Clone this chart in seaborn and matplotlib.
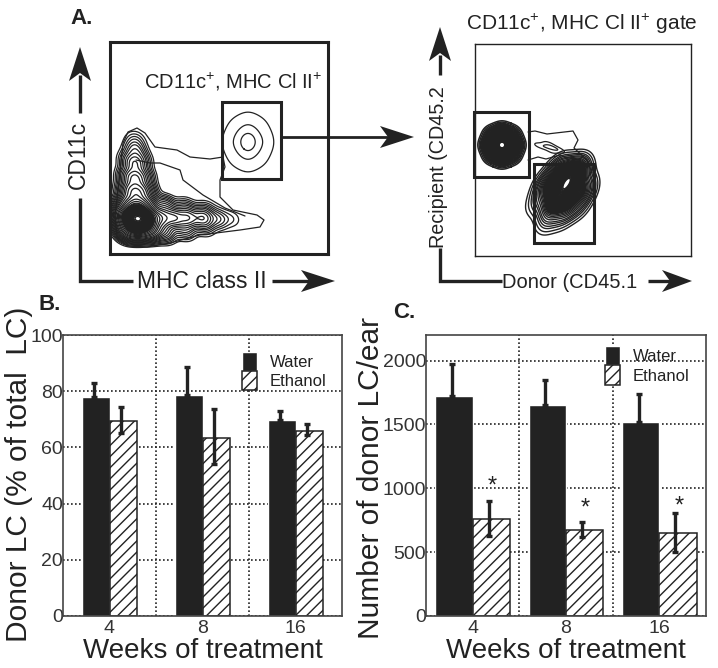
import matplotlib
matplotlib.use("Agg")
import matplotlib.pyplot as plt
from matplotlib.patches import Rectangle
import pandas as pd
import seaborn as sns

# bar data
weeks = ["4", "8", "16"]
groups = ["Water", "Ethanol"]

pct_water = [78, 78.5, 69.7]
pct_water_top = [83, 88.5, 73]
pct_ethanol = [69.3, 63.5, 66]
pct_ethanol_top = [74.5, 73.5, 68.5]
pct_ethanol_low = [65, 54, 64.5]

num_water = [1720, 1655, 1515]
num_water_top = [1975, 1845, 1740]
num_ethanol = [760, 670, 650]
num_ethanol_top = [900, 735, 805]
num_ethanol_low = [630, 615, 500]
star_height = [1010, 845, 860]

# flow plots in pixels: x, y, weight
left_main = [(138, 218, 34), (130, 218, 16), (146, 218, 16), (138, 228, 13), (128, 229, 7),
             (150, 229, 6), (137, 206, 8), (127, 204, 3), (147, 204, 3), (136, 192, 4),
             (128, 190, 1.4), (145, 190, 1.4), (135, 178, 2), (128, 176, 0.9), (143, 176, 0.9),
             (135, 164, 1.2), (129, 160, 0.5), (141, 160, 0.5), (135, 150, 0.7), (135, 140, 0.25),
             (160, 218, 4), (174, 218, 2.6), (188, 218, 2), (203, 218, 1.6), (218, 219, 0.5),
             (232, 219, 0.15), (165, 232, 1.2), (165, 206, 1), (185, 230, 0.6), (185, 208, 0.5),
             (205, 227, 0.3), (205, 210, 0.25), (122, 215, 3)]
left_gate = [(248, 126, 1), (248, 142, 4), (248, 158, 1), (234, 142, 1), (262, 142, 1),
             (238, 130, 0.7), (258, 130, 0.7), (238, 154, 0.7), (258, 154, 0.7)]
right_recipient = [(502, 145, 8), (490, 145, 4), (514, 145, 4), (502, 133, 4), (502, 157, 4),
                   (493, 136, 3), (511, 136, 3), (493, 154, 3), (511, 154, 3)]
right_donor = [(565, 187, 10), (571, 176, 7), (557, 198, 6), (551, 208, 2), (548, 220, 0.8),
               (577, 172, 4), (548, 186, 4), (582, 190, 4), (562, 215, 1), (568, 204, 3),
               (535, 205, 0.2), (560, 172, 4), (578, 205, 1), (540, 200, 0.8)]
right_bridge = [(541, 146, 1), (550, 147, 2), (558, 150, 1), (548, 143, 0.5), (552, 152, 0.5)]

# outer contours traced by hand
left_outer_x = [115, 118, 123, 128, 137, 145, 155, 177, 190, 210, 223, 225, 220, 220, 233, 257, 264, 260, 240, 200, 170, 147, 127, 117, 115]
left_outer_y = [217, 190, 143, 132, 128, 133, 147, 150, 157, 159, 157, 167, 180, 197, 210, 215, 220, 227, 230, 235, 243, 247, 246, 237, 217]
left_inner_x = [136, 150, 160, 180, 183, 203, 225, 245]
left_inner_y = [160, 163, 163, 170, 180, 195, 208, 216]
bridge_top_x = [528, 535, 547, 573, 578, 574, 587, 592]
bridge_top_y = [132, 131, 134, 131, 140, 148, 160, 173]
bridge_low_x = [528, 538, 546, 560, 565, 578]
bridge_low_y = [160, 157, 159, 155, 157, 160]

sns.set_theme(style="white")
plt.rcParams["font.family"] = ["Liberation Sans", "DejaVu Sans"]
plt.rcParams["mathtext.default"] = "regular"
plt.rcParams["hatch.linewidth"] = 1.0
plt.rcParams["text.color"] = "#222222"

W, H = 718, 668
DARK = "#222222"
fig = plt.figure(figsize=(W / 100, H / 100), dpi=100)


def box_axes(left, top, right, bottom):
    return fig.add_axes([left / W, 1 - bottom / H, (right - left) / W, (bottom - top) / H])


def flow_axes(left, top, right, bottom, lw):
    ax = box_axes(left, top, right, bottom)
    ax.set_xlim(left, right)
    ax.set_ylim(bottom, top)
    ax.set_xticks([])
    ax.set_yticks([])
    for s in ax.spines.values():
        s.set_linewidth(lw)
        s.set_color(DARK)
    return ax


def contours(ax, pts, levels, bw, lw=0.9):
    df = pd.DataFrame(pts, columns=["x", "y", "w"])
    sns.kdeplot(data=df, x="x", y="y", weights="w", levels=levels, bw_method=bw,
                gridsize=220, color=DARK, linewidths=lw, ax=ax)
    ax.set_xlabel("")
    ax.set_ylabel("")


def gate(ax, left, top, right, bottom):
    ax.add_patch(Rectangle((left, top), right - left, bottom - top, fill=False,
                           ec=DARK, lw=2.2, zorder=5, clip_on=False))


# panel A, left
ax1 = flow_axes(110, 42, 328, 254, 2.2)
lv = [0.003, 0.006, 0.01, 0.015, 0.022, 0.03, 0.042, 0.056, 0.075, 0.1, 0.13, 0.16, 0.2, 0.24, 0.28,
      0.32, 0.36, 0.4] + [0.42 + 0.02 * i for i in range(26)] + [0.94, 0.97]
contours(ax1, left_main, lv, 0.4)
contours(ax1, left_gate, [0.04, 0.4, 0.78], 0.75)
ax1.plot(left_outer_x, left_outer_y, color=DARK, lw=0.9)
ax1.plot(left_inner_x, left_inner_y, color=DARK, lw=0.9)
gate(ax1, 222, 102, 281, 179)

# panel A, right
ax2 = flow_axes(475, 44, 691, 256, 1.0)
lv2 = [0.01, 0.02, 0.035, 0.05, 0.07, 0.09, 0.12, 0.15, 0.18, 0.21] + [0.24 + 0.016 * i for i in range(46)]
contours(ax2, right_recipient, lv2, 0.6, lw=1.1)
contours(ax2, right_donor, lv2, 0.68, lw=1.0)
contours(ax2, right_bridge, [0.2, 0.7], 0.8)
ax2.plot(bridge_top_x, bridge_top_y, color=DARK, lw=0.9)
ax2.plot(bridge_low_x, bridge_low_y, color=DARK, lw=0.9)
gate(ax2, 474, 112, 529, 177)
gate(ax2, 534, 164, 594, 243)


def bar_panel(ax, water, water_top, ethanol, eth_top, eth_low, width, ymax, yticks, legend_xy):
    df = pd.DataFrame({
        "week": weeks * 2,
        "group": [groups[0]] * 3 + [groups[1]] * 3,
        "value": water + ethanol,
    })
    sns.barplot(data=df, x="week", y="value", hue="group", order=weeks, hue_order=groups,
                palette=[DARK, "white"], saturation=1, width=width, legend=False, ax=ax)
    water_bars, eth_bars = ax.containers[0], ax.containers[1]
    for b in eth_bars:
        b.set_hatch("///")
        b.set_edgecolor(DARK)
        b.set_linewidth(1.1)
    for i in range(3):
        x0 = water_bars[i].get_x() + water_bars[i].get_width() / 2 - 0.02
        x1 = eth_bars[i].get_x() + eth_bars[i].get_width() / 2 - 0.03
        ax.errorbar(x0, water[i], yerr=[[0], [water_top[i] - water[i]]], color=DARK,
                    elinewidth=2.4, capsize=2.2, capthick=2.4, zorder=6)
        ax.errorbar(x1, ethanol[i], yerr=[[ethanol[i] - eth_low[i]], [eth_top[i] - ethanol[i]]],
                    color=DARK, elinewidth=2.4, capsize=2.2, capthick=2.4, zorder=6)
    ax.set_xlim(-0.5, 2.5)
    ax.set_ylim(0, ymax)
    ax.set_yticks(yticks)
    ax.set_xticks([0, 1, 2])
    ax.set_xticklabels(weeks)
    ax.set_xticks([0.5, 1.5], minor=True)
    ax.set_axisbelow(True)
    ax.grid(False)
    dots = (0, (1, 1.4))
    ax.grid(True, axis="y", which="major", color=DARK, lw=1.2, ls=dots)
    ax.grid(True, axis="x", which="minor", color=DARK, lw=1.2, ls=dots)
    ax.tick_params(which="both", length=0, labelsize=14, labelcolor="#333333")
    ax.tick_params(axis="x", pad=3)
    ax.tick_params(axis="y", pad=0)
    for s in ax.spines.values():
        s.set_linewidth(1.2)
        s.set_color("#444444")
    ax.legend([water_bars[0], eth_bars[0]], groups, loc="upper left", bbox_to_anchor=legend_xy,
              frameon=False, fontsize=12, labelspacing=0, handlelength=0.95, handleheight=1.4,
              handletextpad=0.75, borderpad=0, borderaxespad=0)
    ax.set_xlabel("Weeks of treatment", fontsize=20, color=DARK)
    ax.xaxis.set_label_coords(0.5, -0.08)


ax3 = box_axes(63, 335, 342, 616)
bar_panel(ax3, pct_water, pct_water_top, pct_ethanol, pct_ethanol_top, pct_ethanol_low,
          0.6, 100, [0, 20, 40, 60, 80, 100], (0.64, 0.94))
ax3.set_ylabel("Donor LC (% of total  LC)", fontsize=21.5, color=DARK)
ax3.yaxis.set_label_coords(-0.106, 0.505)

ax4 = box_axes(426, 335, 706, 616)
bar_panel(ax4, num_water, num_water_top, num_ethanol, num_ethanol_top, num_ethanol_low,
          0.8, 2200, [0, 500, 1000, 1500, 2000], (0.638, 0.96))
ax4.set_ylabel("Number of donor LC/ear", fontsize=21.5, color=DARK)
ax4.yaxis.set_label_coords(-0.148, 0.49)
for i, h in enumerate(star_height):
    ax4.text(i + 0.21, h, "*", ha="center", va="center", fontsize=17, color=DARK)

# overlay in picture pixels for arrows and labels
ov = fig.add_axes([0, 0, 1, 1], zorder=10)
ov.set_xlim(0, W)
ov.set_ylim(H, 0)
ov.axis("off")
ov.patch.set_alpha(0)


def arrow_head(tx, ty, dx, dy, length=34, half=11, notch=8):
    # stealth head, (dx, dy) is the unit direction
    px, py = -dy, dx
    xs = [tx, tx - dx * length + px * half, tx - dx * (length - notch), tx - dx * length - px * half]
    ys = [ty, ty - dy * length + py * half, ty - dy * (length - notch), ty - dy * length - py * half]
    ov.fill(xs, ys, color=DARK, lw=0)


def line(xs, ys, lw=2.4):
    ov.plot(xs, ys, color=DARK, lw=lw, solid_capstyle="butt", solid_joinstyle="miter")


# left flow axes
line([80, 80], [113, 75])
arrow_head(80, 47, 0, -1)
line([80, 80, 133], [198, 281, 281])
line([272, 310], [281, 281])
arrow_head(335, 281, 1, 0)
# gate arrow
line([281, 390], [137, 137], lw=2.0)
arrow_head(414, 137, 1, 0, length=34, half=11)
# right flow axes
line([440, 440], [75, 55])
arrow_head(440, 27, 0, -1, length=34, half=11)
line([440, 440, 502], [248, 281, 281])
line([648, 670], [281, 281])
arrow_head(692, 281, 1, 0, length=30, half=11)

ov.text(78, 155, "CD11c", rotation=90, ha="center", va="center", fontsize=16.5)
ov.text(202, 282, "MHC class II", ha="center", va="center", fontsize=16.5)
ov.text(439, 167, "Recipient (CD45.2", rotation=90, ha="center", va="center", fontsize=14.2)
ov.text(570, 282, "Donor (CD45.1", ha="center", va="center", fontsize=14.5)
ov.text(233, 82, "CD11c$^{+}$, MHC Cl II$^{+}$", ha="center", va="center", fontsize=14.5)
ov.text(582, 24, "CD11c$^{+}$, MHC Cl II$^{+}$ gate", ha="center", va="center", fontsize=15)
ov.text(70, 18, "A.", ha="left", va="center", fontsize=16, fontweight="bold")
ov.text(39, 304, "B.", ha="left", va="center", fontsize=16, fontweight="bold")
ov.text(393, 313, "C.", ha="left", va="center", fontsize=16, fontweight="bold")

fig.savefig("out.png", dpi=100)
